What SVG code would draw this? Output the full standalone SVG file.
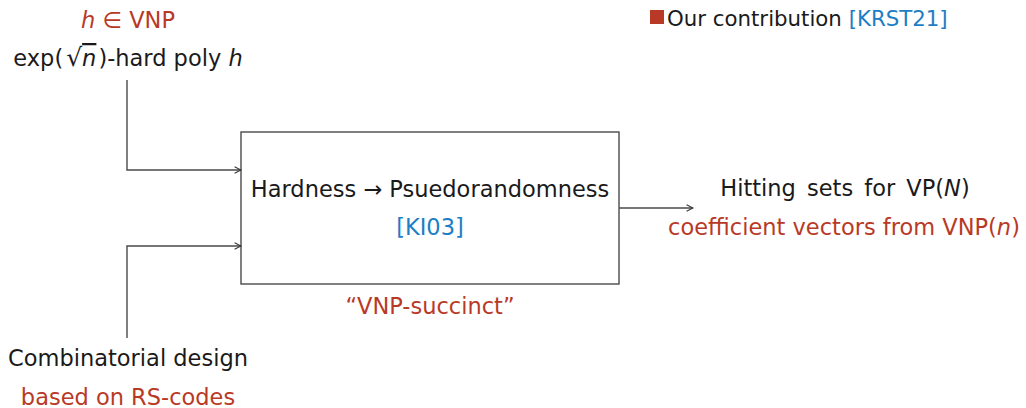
<svg xmlns="http://www.w3.org/2000/svg" width="1026" height="408" viewBox="0 0 1026 408">
<defs>
<style>
text{font-family:"DejaVu Sans","Liberation Sans",sans-serif;font-size:22.5px;fill:#1a1a1a;text-anchor:middle}
.r{fill:#b83a26}
.b{fill:#1c7ec4}
.i{font-style:italic}
.ln{fill:none;stroke:#4a4a4a;stroke-width:1.4}
</style>
<marker id="ah" viewBox="0 0 10 10" refX="9" refY="5" markerWidth="8" markerHeight="8" markerUnits="userSpaceOnUse" orient="auto">
<path d="M1,1 L9,5 L1,9" fill="none" stroke="#333" stroke-width="1.3"/>
</marker>
</defs>
<rect width="1026" height="408" fill="#fff"/>
<g id="legend">
<rect x="650" y="10" width="14" height="14" fill="#b83a26"/>
<text x="667" y="26" style="text-anchor:start;font-size:21.3px">Our contribution <tspan class="b">[KRST21]</tspan></text>
</g>
<g id="hard-poly">
<text x="128" y="28" class="r"><tspan class="i">h</tspan> ∈ VNP</text>
<text x="128" y="66">exp(<tspan dx="3" style="font-size:25px">√</tspan><tspan class="i" text-decoration="overline">n</tspan><tspan dx="2">)</tspan>-hard poly <tspan class="i">h</tspan></text>
</g>
<g id="design">
<text x="128" y="366">Combinatorial design</text>
<text x="128" y="405" class="r">based on RS-codes</text>
</g>
<g id="box">
<rect x="241" y="132" width="378" height="152" fill="#fff" stroke="#4a4a4a" stroke-width="1.4"/>
<text x="430" y="197">Hardness → Psuedorandomness</text>
<text x="430" y="235" class="b">[KI03]</text>
<text x="430" y="314" class="r">“VNP-succinct”</text>
</g>
<g id="hitting">
<text x="845" y="196" style="word-spacing:4px">Hitting sets for VP(<tspan class="i">N</tspan>)</text>
<text x="844" y="235" class="r">coefficient vectors from VNP(<tspan class="i">n</tspan>)</text>
</g>
<g id="connectors">
<path class="ln" d="M127,80 V170 H241" marker-end="url(#ah)"/>
<path class="ln" d="M127,338 V246 H241" marker-end="url(#ah)"/>
<path class="ln" d="M619,208 H693" marker-end="url(#ah)"/>
</g>
</svg>
